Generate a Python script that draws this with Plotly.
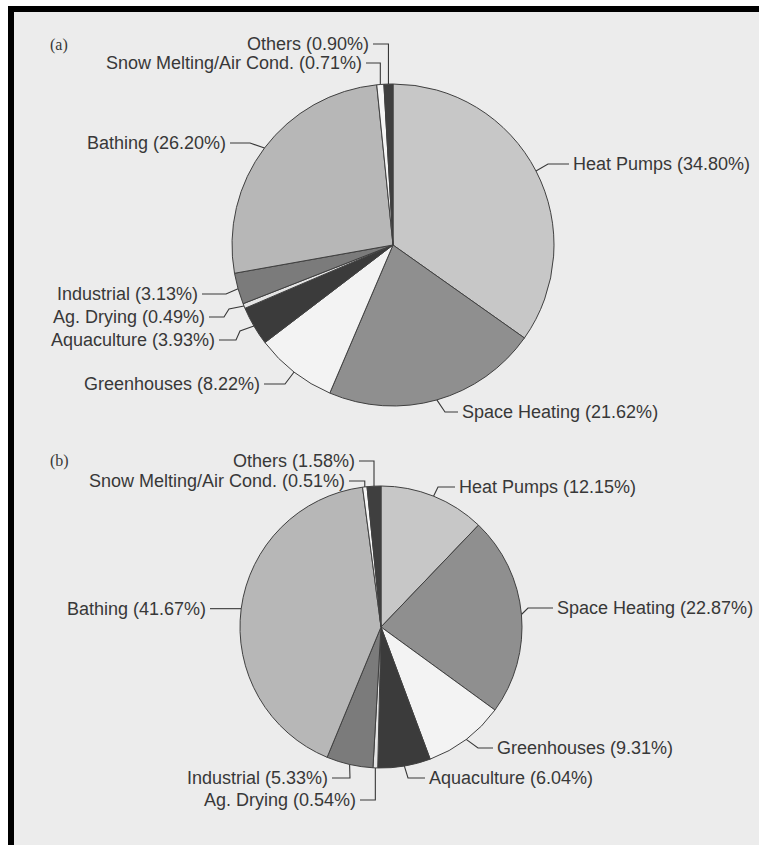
import math
import plotly.graph_objects as go

# Geothermal direct-use shares, listed clockwise from 12 o'clock
categories = ["Heat Pumps", "Space Heating", "Greenhouses", "Aquaculture",
              "Ag. Drying", "Industrial", "Bathing",
              "Snow Melting/Air Cond.", "Others"]
share_a = [34.80, 21.62, 8.22, 3.93, 0.49, 3.13, 26.20, 0.71, 0.90]
share_b = [12.15, 22.87, 9.31, 6.04, 0.54, 5.33, 41.67, 0.51, 1.58]
panel_tags = ["(a)", "(b)"]

slice_colors = ["#c7c7c7", "#8f8f8f", "#f3f3f3", "#3b3b3b", "#e4e4e4",
                "#7b7b7b", "#b7b7b7", "#f5f5f5", "#3f3f3f"]

W, H = 759, 845
BG = "#ececec"
INK = "#383838"
V = "v"  # elbow marker: vertical drop straight above/below the slice edge point


def px(x):
    return x / W


def py(y):
    return 1 - y / H


# pie geometry in pixels: centre x, centre y, radius
pies = [
    dict(values=share_a, cx=393, cy=245, r=161, tag_xy=(48, 45)),
    dict(values=share_b, cx=381, cy=627, r=141, tag_xy=(48, 461)),
]

# label placement per slice: (side, elbow points, line end x, line end y)
label_layout = [
    [  # panel (a)
        ("left",  [(548, 164)], 569, 164),
        ("left",  [(445, 412)], 458, 412),
        ("right", [(285, 384)], 264, 384),
        ("right", [(240, 331), (236, 340)], 219, 340),
        ("right", [(229, 309), (224, 317)], 209, 317),
        ("right", [(226, 294)], 202, 294),
        ("right", [(250, 143)], 230, 143),
        ("right", [V], 366, 63),
        ("right", [V], 373, 44),
    ],
    [  # panel (b)
        ("left",  [(438, 487)], 455, 487),
        ("left",  [(528, 608)], 553, 608),
        ("left",  [(478, 748)], 493, 748),
        ("left",  [(408, 778)], 425, 778),
        ("right", [V], 360, 800),
        ("right", [(350, 778)], 332, 778),
        ("right", [], 210, None),
        ("right", [V], 349, 481),
        ("right", [V], 359, 461),
    ],
]

fig = go.Figure()
noline = dict(width=0, color="rgba(0,0,0,0)")
shapes = [
    # page frame: light panel with heavy black rule on top and left
    dict(type="rect", xref="paper", yref="paper", x0=0, x1=px(8),
         y0=0, y1=1, fillcolor="white", line=noline, layer="below"),
    dict(type="rect", xref="paper", yref="paper", x0=0, x1=1,
         y0=py(6), y1=1, fillcolor="white", line=noline, layer="below"),
    dict(type="rect", xref="paper", yref="paper", x0=px(8), x1=1,
         y0=py(12), y1=py(6), fillcolor="black", line=noline, layer="below"),
    dict(type="rect", xref="paper", yref="paper", x0=px(8), x1=px(14),
         y0=0, y1=py(6), fillcolor="black", line=noline, layer="below"),
    # plain right margin strip
    dict(type="rect", xref="paper", yref="paper", x0=px(753), x1=1,
         y0=0, y1=py(12), fillcolor=BG, line=noline, layer="above"),
]
annotations = []

for pie, layout_rows, tag in zip(pies, label_layout, panel_tags):
    cx, cy, r = pie["cx"], pie["cy"], pie["r"]
    vals = pie["values"]
    fig.add_trace(go.Pie(
        labels=categories, values=vals, sort=False, direction="clockwise",
        rotation=0, textinfo="none", hoverinfo="label+value",
        marker=dict(colors=slice_colors, line=dict(color="#404040", width=1)),
        domain=dict(x=[px(cx - r), px(cx + r)], y=[py(cy + r), py(cy - r)]),
        showlegend=False,
    ))
    total = sum(vals)
    cum = 0.0
    for name, v, (side, elbows, ex, ey) in zip(categories, vals, layout_rows):
        mid = (cum + v / 2) / total * 2 * math.pi
        cum += v
        sx = cx + r * math.sin(mid)
        sy = cy - r * math.cos(mid)
        if ey is None:
            ey = sy
        bends = [(sx, ey) if e == V else e for e in elbows]
        pts = [(sx, sy)] + bends + [(ex, ey)]
        path = "M " + " L ".join(f"{px(x):.5f},{py(y):.5f}" for x, y in pts)
        shapes.append(dict(type="path", xref="paper", yref="paper", path=path,
                           line=dict(color=INK, width=1.1)))
        tx = ex + 2 if side == "left" else ex - 2
        annotations.append(dict(
            xref="paper", yref="paper", x=px(tx), y=py(ey),
            xanchor="left" if side == "left" else "right", yanchor="middle",
            text=f"{name} ({v:.2f}%)", showarrow=False,
            font=dict(family="Liberation Sans, Arial, sans-serif",
                      size=18, color=INK)))
    annotations.append(dict(
        xref="paper", yref="paper", x=px(pie["tag_xy"][0]), y=py(pie["tag_xy"][1]),
        xanchor="left", yanchor="middle", text=tag, showarrow=False,
        font=dict(family="Liberation Serif, Times New Roman, serif",
                  size=16, color=INK)))

fig.update_layout(
    width=W, height=H, margin=dict(l=0, r=0, t=0, b=0),
    paper_bgcolor=BG, plot_bgcolor=BG,
    shapes=shapes, annotations=annotations,
)

# keep the page exactly figure-sized (no body margin, no scrollbars)
page_css = ("document.documentElement.style.overflow='hidden';"
            "document.body.style.margin='0';"
            "document.body.style.overflow='hidden';")
fig.write_html("out.html", post_script=page_css,
               config={"displayModeBar": False})
